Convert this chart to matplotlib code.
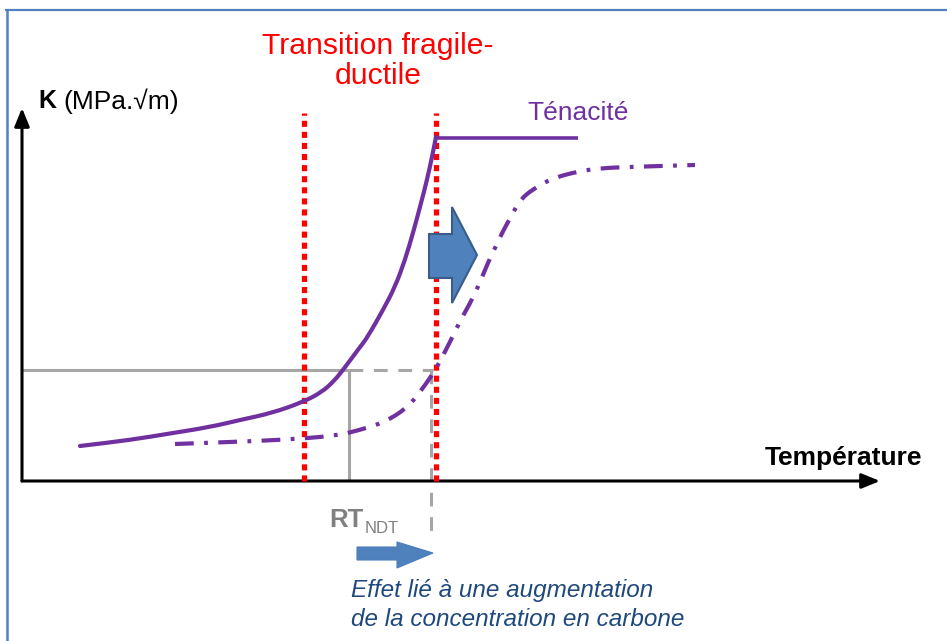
import matplotlib
matplotlib.use("Agg")
import matplotlib.pyplot as plt
from matplotlib.patches import Polygon, PathPatch
from matplotlib.path import Path

plt.rcParams['font.family'] = ['Liberation Sans', 'DejaVu Sans']

# ---- data (temperature / toughness in arbitrary schematic units) ----
temp_solid = [58, 108, 151, 188, 218, 250, 281, 300, 312, 321, 338, 345, 361, 373, 383, 391, 398, 405, 410, 414]
k_solid    = [35, 41, 48, 54, 61, 68, 79, 89, 100, 111, 134, 143, 171, 194, 221, 248, 274, 301, 324, 344]
plateau_temp = [414, 556]
plateau_k = [343, 343]

temp_dd = [153, 208, 258, 313, 338, 363, 385, 398, 408, 415, 428, 438, 451, 461, 468, 475, 481, 491, 498, 511, 531, 558, 581, 608, 638, 673]
k_dd    = [37, 39, 41, 45, 51, 59, 73, 89, 103, 114, 139, 160, 183, 206, 223, 237, 250, 268, 281, 292, 303, 310, 313, 314, 315, 316]

t_transition = [282, 414]   # brittle-ductile transition bounds
rt_ndt = [327, 409]         # RT_NDT before / after
k_ref = 111

fig = plt.figure(figsize=(9.47, 6.41), dpi=100)
ax = fig.add_axes([0, 0, 1, 1])
ax.set_xlim(-22, 925)
ax.set_ylim(-160, 481)
ax.axis('off')

purple = '#7030A0'
gray = '#A6A6A6'


def smooth_path(xs, ys):
    """Quadratic B-spline style path through the midpoints of the read points."""
    pts = list(zip(xs, ys))
    verts = [pts[0]]
    codes = [Path.MOVETO]
    mids = [((pts[i][0] + pts[i + 1][0]) / 2, (pts[i][1] + pts[i + 1][1]) / 2) for i in range(len(pts) - 1)]
    verts.append(mids[0]); codes.append(Path.LINETO)
    for i in range(1, len(pts) - 1):
        verts += [pts[i], mids[i]]
        codes += [Path.CURVE3, Path.CURVE3]
    verts.append(pts[-1]); codes.append(Path.LINETO)
    return Path(verts, codes)


# frame (top and left border)
fig.add_artist(plt.Line2D([6/947, 1], [1-9.5/641, 1-9.5/641], color='#4F81BD', lw=1.6, transform=fig.transFigure))
fig.add_artist(plt.Line2D([6.5/947, 6.5/947], [1-9.5/641, 0], color='#4F81BD', lw=1.8, transform=fig.transFigure))

# axes arrows
ax.annotate('', xy=(0, 373), xytext=(0, 0),
            arrowprops=dict(arrowstyle='-|>,head_length=1.1,head_width=0.45', color='black', lw=2.2, shrinkA=0, shrinkB=0))
ax.annotate('', xy=(858, 0), xytext=(0, 0),
            arrowprops=dict(arrowstyle='-|>,head_length=1.1,head_width=0.45', color='black', lw=2.2, shrinkA=0, shrinkB=0))

# reference gray lines
ax.plot([0, rt_ndt[0]], [k_ref, k_ref], color=gray, lw=2.2, solid_capstyle='butt')
ax.plot([rt_ndt[0], rt_ndt[0]], [0, k_ref], color=gray, lw=2.2, solid_capstyle='butt')
ax.plot([rt_ndt[0], rt_ndt[1] + 2], [k_ref, k_ref], color=gray, lw=2.2, ls=(0, (4.5, 3.5)), dash_capstyle='butt')
ax.plot([rt_ndt[1], rt_ndt[1]], [k_ref, -52], color=gray, lw=2.2, ls=(0, (4.5, 3.5)), dash_capstyle='butt')

# red transition lines
for t in t_transition:
    ax.plot([t, t], [0, 368], color='#FF0000', lw=3.8, ls=(0, (1.15, 0.95)), dash_capstyle='butt', zorder=3)

# curves
ax.add_patch(PathPatch(smooth_path(temp_solid, k_solid), fill=False, edgecolor=purple, lw=3.0,
                       capstyle='round', joinstyle='round', zorder=4))
ax.plot(plateau_temp, plateau_k, color=purple, lw=2.6, solid_capstyle='butt', zorder=4)
ax.add_patch(PathPatch(smooth_path(temp_dd, k_dd), fill=False, edgecolor=purple, lw=3.0,
                       linestyle=(0, (4.5, 2.5, 0.9, 2.5)), capstyle='butt', zorder=4))

# big blue shift arrow
big = Polygon([(407, 203), (430, 203), (430, 178), (455, 226), (430, 274), (430, 247), (407, 247)], closed=True,
              facecolor='#4F81BD', edgecolor='#385D8A', lw=1.5, zorder=5)
ax.add_patch(big)

# small blue arrow under RT_NDT
small = Polygon([(335, -66), (375, -66), (375, -61), (411, -72), (375, -87), (375, -79), (335, -79)], closed=True,
                facecolor='#4F81BD', edgecolor='#4A7EBB', lw=0.8, zorder=5)
ax.add_patch(small)

# texts
ax.text(356, 420, 'Transition fragile-\nductile', color='#FF0000', fontsize=21.7, ha='center', va='center',
        linespacing=1.12)
ax.text(16, 380, 'K', fontsize=18, fontweight='bold', ha='left', va='center')
ax.text(41, 380, '(MPa.√m)', fontsize=19, ha='left', va='center')
ax.text(505, 368, 'Ténacité', color=purple, fontsize=19, ha='left', va='center')
ax.text(743, 23, 'Température', fontsize=19, fontweight='bold', ha='left', va='center')
ax.text(307, -46, 'RT', color='#808080', fontsize=18.5, fontweight='bold', ha='left', va='baseline')
ax.text(343, -52, 'NDT', color='#808080', fontsize=12, ha='left', va='baseline')
ax.text(329, -124, 'Effet lié à une augmentation\nde la concentration en carbone', color='#1F497D',
        fontsize=17.5, style='italic', ha='left', va='center', linespacing=1.28)

fig.savefig('out.png', dpi=100)
